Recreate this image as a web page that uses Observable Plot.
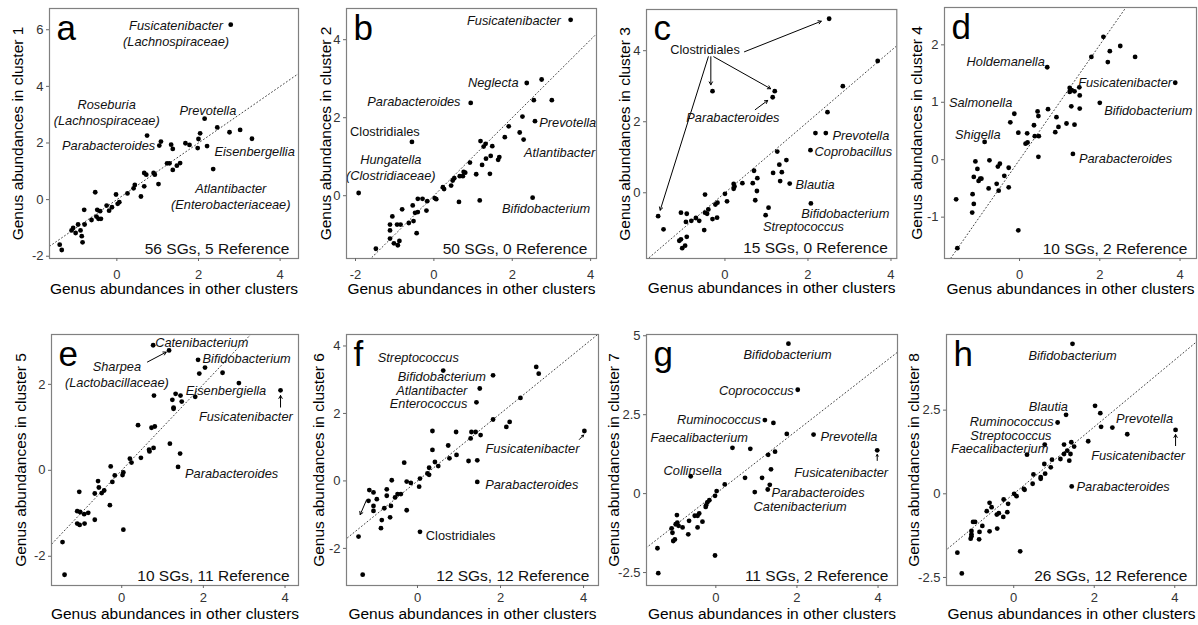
<!DOCTYPE html>
<html>
<head>
<meta charset="utf-8">
<script src="https://cdn.jsdelivr.net/npm/d3@7"></script>
<script src="https://cdn.jsdelivr.net/npm/@observablehq/plot@0.6"></script>
<style>
  html, body { margin: 0; padding: 0; background: #fff; }
  #chart { position: relative; width: 1198px; height: 625px; overflow: hidden; background: #fff; }
  #chart svg { position: absolute; }
</style>
</head>
<body>
<div id="chart"></div>
<script>
// ---------------- DATA ----------------
const panelLetters = ["a", "b", "c", "d", "e", "f", "g", "h"];
const sgCounts = [56, 50, 15, 10, 10, 12, 11, 26];
const refCounts = [5, 0, 0, 2, 11, 12, 2, 12];
const xTitle = "Genus abundances in other clusters";
const yTitlePrefix = "Genus abundances in cluster ";

// [abundance in other clusters, abundance in this cluster]
const dotsA = [[2.79,6.18],[2.15,2.86],[0.74,2.26],[1.04,1.91],[1.08,2.05],[1.33,1.94],[1.37,1.79],[1.68,1.99],[1.78,1.93],[2.04,2.34],[2.0,2.14],[1.98,1.82],[2.21,1.89],[2.46,2.55],[2.76,2.38],[3.02,2.46],[3.31,2.15],[2.36,1.08],[1.23,1.28],[1.29,1.28],[1.37,1.05],[1.47,1.2],[1.55,1.29],[0.9,0.94],[0.93,0.88],[0.67,0.94],[0.72,0.88],[1.02,0.55],[0.44,0.52],[0.41,0.4],[0.67,0.47],[0.26,0.22],[0.59,0.11],[-0.02,0.18],[-0.53,0.26],[0.02,-0.15],[0.06,-0.09],[-0.25,-0.21],[-0.12,-0.27],[-0.19,-0.39],[-0.48,-0.36],[-0.41,-0.41],[-0.5,-0.6],[-0.45,-0.68],[-0.39,-0.68],[-0.62,-0.72],[-0.8,-0.36],[-0.79,-0.88],[-0.95,-0.88],[-1.07,-1.0],[-0.89,-1.09],[-1.11,-1.09],[-1.01,-1.18],[-0.86,-1.29],[-0.84,-1.51],[-1.4,-1.59],[-1.35,-1.78]];
const dotsB = [[3.49,4.51],[2.75,2.98],[2.37,2.89],[0.94,2.38],[2.55,2.45],[3.01,2.45],[2.26,2.03],[2.58,1.91],[1.91,1.78],[2.19,1.62],[2.29,1.44],[1.81,1.5],[1.19,1.4],[1.32,1.33],[1.27,1.26],[1.49,1.27],[1.45,1.02],[1.33,0.95],[1.67,0.99],[1.64,0.92],[1.23,0.79],[0.92,0.85],[0.76,0.61],[0.8,0.59],[1.08,0.55],[1.43,0.56],[0.66,0.5],[0.74,0.5],[0.52,0.45],[0.48,0.39],[0.44,0.26],[0.23,0.22],[0.26,0.17],[0.06,-0.09],[0.02,-0.06],[-0.56,1.38],[-1.92,0.07],[2.52,-0.05],[0.64,-0.16],[1.17,-0.12],[-0.41,-0.08],[-0.29,-0.08],[-0.17,-0.14],[-0.54,-0.25],[-0.81,-0.35],[-0.19,-0.38],[-0.41,-0.42],[-0.48,-0.44],[-0.52,-0.65],[-0.64,-0.7],[-0.85,-0.74],[-0.94,-0.74],[-1.06,-0.53],[-1.12,-0.74],[-1.12,-0.89],[-1.12,-1.1],[-1.02,-1.22],[-0.88,-1.16],[-0.92,-1.27],[-0.44,-0.96],[-1.48,-1.36]];
const dotsC = [[2.51,4.9],[3.68,3.71],[2.84,3.0],[2.47,2.27],[-0.3,2.86],[1.2,2.86],[1.15,2.69],[2.18,1.68],[2.43,1.68],[2.06,1.2],[1.26,1.16],[1.48,0.92],[1.31,0.79],[1.37,0.58],[1.16,0.56],[1.33,0.33],[1.56,0.26],[0.78,0.41],[0.77,0.05],[0.7,0.62],[0.67,0.27],[2.07,-0.3],[1.05,-0.42],[0.98,-0.63],[0.73,-0.21],[-1.61,-0.66],[0.42,0.27],[0.21,0.25],[0.23,0.18],[0.21,0.11],[0.0,-0.03],[0.05,-0.24],[-0.18,-0.28],[-0.23,-0.33],[-0.48,-0.05],[-0.4,-0.47],[-0.43,-0.59],[-0.48,-0.56],[-0.19,-0.7],[-0.3,-0.74],[-0.7,-0.71],[-0.81,-0.79],[-0.62,-0.79],[-0.92,-0.59],[-1.06,-0.56],[-0.94,-0.82],[-0.5,-1.05],[-1.48,-1.03],[-0.92,-1.24],[-1.06,-1.31],[-1.1,-1.35],[-0.96,-1.49],[-1.03,-1.56]];
const dotsD = [[2.09,2.14],[2.51,1.98],[2.25,1.89],[1.79,1.79],[2.2,1.7],[2.88,1.79],[0.69,1.61],[3.88,1.34],[1.25,1.25],[1.3,1.21],[1.37,1.19],[1.25,1.18],[1.49,1.26],[1.5,1.12],[1.29,0.93],[1.5,0.89],[2.0,0.99],[0.71,0.88],[0.45,0.84],[0.47,0.76],[-0.13,0.8],[-0.23,0.65],[0.92,0.74],[0.97,0.57],[1.17,0.63],[1.37,0.61],[0.89,0.48],[0.36,0.6],[0.38,0.41],[0.48,0.41],[-0.03,0.47],[0.19,0.46],[0.15,0.28],[0.2,0.3],[-0.87,0.31],[0.47,0.05],[1.33,0.1],[-1.1,-0.03],[-1.05,-0.16],[-0.75,-0.01],[-0.49,-0.07],[-0.54,-0.12],[-0.27,-0.14],[-0.38,-0.28],[-0.27,-0.48],[-0.57,-0.42],[-0.52,-0.54],[-0.77,-0.5],[-0.95,-0.33],[-1.02,-0.37],[-0.98,-0.33],[-1.14,-0.3],[-1.17,-0.6],[-1.14,-0.77],[-1.18,-0.92],[-1.58,-0.69],[-0.03,-1.23],[-1.55,-1.54]];
const dotsE = [[0.77,2.91],[1.16,2.79],[1.87,2.57],[2.04,2.39],[1.9,2.25],[2.47,2.27],[2.87,2.03],[3.89,1.86],[0.79,1.74],[1.32,1.78],[1.44,1.74],[1.24,1.64],[1.47,1.6],[1.8,1.71],[1.27,1.46],[1.27,1.43],[0.4,1.05],[0.73,0.99],[0.81,1.02],[1.18,0.62],[1.43,0.39],[1.38,0.08],[0.78,0.52],[0.67,0.48],[0.68,0.44],[0.2,0.27],[0.24,0.18],[0.47,0.29],[-0.27,0.09],[0.04,-0.05],[0.02,-0.11],[-0.17,-0.12],[-0.23,-0.27],[-0.58,-0.25],[-0.56,-0.4],[-0.66,-0.54],[-0.49,-0.53],[-0.43,-0.47],[-0.29,-0.81],[-1.04,-0.5],[-1.09,-0.95],[-1.02,-0.97],[-0.92,-1.02],[-0.82,-0.99],[-1.09,-1.24],[-1.03,-1.27],[-0.91,-1.24],[-0.66,-1.15],[0.04,-1.38],[-1.45,-1.67],[-1.4,-2.43]];
const dotsF = [[0.62,3.27],[1.82,3.13],[1.5,2.74],[1.42,2.33],[2.86,3.38],[2.92,3.18],[2.48,2.46],[1.82,1.82],[2.22,1.75],[2.14,1.6],[4.02,1.48],[0.36,1.48],[0.93,1.45],[1.3,1.45],[1.4,1.45],[1.28,1.26],[1.52,1.36],[0.74,1.05],[0.36,0.92],[0.94,0.77],[0.77,0.67],[1.23,0.59],[1.44,0.61],[0.42,0.56],[0.5,0.44],[-0.32,0.54],[0.28,0.39],[0.24,0.22],[0.28,0.18],[0.06,0.07],[0.04,-0.17],[1.44,-0.03],[-0.26,-0.02],[-0.16,-0.06],[-0.62,0.02],[-0.74,-0.25],[-0.48,-0.39],[-0.4,-0.39],[-0.74,-0.44],[-0.54,-0.49],[-0.64,-0.74],[-0.26,-0.87],[-1.16,-0.27],[-1.06,-0.34],[-0.98,-0.54],[-1.18,-0.59],[-1.06,-0.74],[-1.06,-0.89],[-0.8,-0.81],[-0.86,-1.16],[-0.66,-1.08],[-0.88,-1.4],[0.06,-1.51],[-1.42,-1.65],[-1.32,-2.78]];
const dotsG = [[1.79,4.75],[2.02,3.29],[1.21,2.33],[1.42,2.24],[1.75,1.89],[2.41,1.87],[3.98,1.37],[0.41,1.45],[0.85,1.42],[1.29,1.23],[1.46,1.33],[-0.62,0.55],[1.36,0.77],[0.72,0.5],[1.14,0.5],[1.33,0.28],[1.28,0.13],[0.96,0.05],[0.22,0.29],[0.02,0.08],[-0.02,-0.07],[-0.16,-0.21],[-0.21,-0.28],[-0.24,-0.37],[-0.25,-0.42],[-0.33,-0.89],[-0.41,-0.63],[-0.52,-0.7],[-0.45,-0.7],[-0.66,-0.86],[-0.45,-1.07],[-0.68,-1.29],[-0.82,-1.07],[-0.92,-1.02],[-0.96,-0.68],[-0.95,-0.92],[-0.99,-0.97],[-1.09,-1.1],[-1.07,-1.24],[-1.01,-1.45],[-1.05,-1.5],[-0.02,-1.96],[-1.44,-1.73],[-1.42,-2.52]];
const dotsH = [[1.46,4.48],[2.02,2.63],[2.15,2.41],[1.3,2.36],[1.09,2.13],[2.17,2.0],[2.45,1.98],[2.82,1.78],[4.02,1.91],[1.85,1.57],[1.43,1.54],[1.5,1.41],[0.77,1.47],[1.25,1.47],[1.33,1.29],[1.41,1.19],[1.25,1.19],[0.33,1.17],[1.16,1.04],[1.38,0.99],[0.95,1.02],[0.76,0.89],[0.92,0.79],[0.78,0.6],[0.67,0.5],[0.67,0.45],[0.49,0.58],[0.47,0.3],[1.44,0.22],[0.25,0.15],[0.27,0.12],[0.01,0.0],[0.07,-0.07],[-0.14,-0.3],[-0.25,-0.17],[-0.16,-0.55],[-0.37,-0.58],[-0.42,-0.62],[-0.26,-0.69],[-0.6,-0.27],[-0.55,-0.4],[-0.67,-0.52],[-0.41,-1.04],[-0.6,-1.12],[-0.78,-0.96],[-0.96,-0.84],[-1.01,-0.84],[-0.85,-1.14],[-0.86,-1.36],[-1.05,-1.11],[-1.05,-1.21],[-1.05,-1.27],[-1.07,-1.34],[0.16,-1.72],[-1.4,-1.76],[-1.29,-2.38]];

// genus annotations (x, y in data units of each panel)
const labelsA = [
  {text: "Fusicatenibacter\n(Lachnospiraceae)", x: 1.45, y: 5.9, anchor: "middle"},
  {text: "Roseburia\n(Lachnospiraceae)", x: -0.25, y: 3.11, anchor: "middle"},
  {text: "Parabacteroides", x: 0.94, y: 1.94, anchor: "end"},
  {text: "Prevotella", x: 2.23, y: 3.16, anchor: "middle"},
  {text: "Eisenbergellia", x: 2.39, y: 1.71, anchor: "start"},
  {text: "Atlantibacter\n(Enterobacteriaceae)", x: 2.79, y: 0.14, anchor: "middle"}
];
const labelsB = [
  {text: "Fusicatenibacter", x: 3.24, y: 4.51, anchor: "end"},
  {text: "Neglecta", x: 2.16, y: 2.91, anchor: "end"},
  {text: "Parabacteroides", x: 0.68, y: 2.44, anchor: "end"},
  {text: "Prevotella", x: 2.69, y: 1.89, anchor: "start"},
  {text: "Atlantibacter", x: 2.3, y: 1.12, anchor: "start"},
  {text: "Clostridiales", x: -1.25, y: 1.66, anchor: "middle"},
  {text: "Hungatella\n(Clostridiaceae)", x: -1.1, y: 0.74, anchor: "middle"},
  {text: "Bifidobacterium", x: 1.74, y: -0.31, anchor: "start"}
];
const labelsC = [
  {text: "Clostridiales", x: -0.48, y: 4.06, anchor: "middle"},
  {text: "Parabacteroides", x: 0.19, y: 2.13, anchor: "middle"},
  {text: "Prevotella", x: 2.59, y: 1.63, anchor: "start"},
  {text: "Coprobacillus", x: 2.16, y: 1.18, anchor: "start"},
  {text: "Blautia", x: 1.7, y: 0.25, anchor: "start"},
  {text: "Bifidobacterium", x: 2.9, y: -0.56, anchor: "middle"},
  {text: "Streptococcus", x: 1.89, y: -0.94, anchor: "middle"}
];
const labelsD = [
  {text: "Holdemanella", x: 0.63, y: 1.72, anchor: "end"},
  {text: "Fusicatenibacter", x: 3.8, y: 1.35, anchor: "end"},
  {text: "Salmonella", x: -0.97, y: 1.0, anchor: "middle"},
  {text: "Bifidobacterium", x: 2.11, y: 0.87, anchor: "start"},
  {text: "Shigella", x: -1.04, y: 0.45, anchor: "middle"},
  {text: "Parabacteroides", x: 1.48, y: 0.03, anchor: "start"}
];
const labelsE = [
  {text: "Catenibacterium", x: 0.82, y: 3.0, anchor: "start"},
  {text: "Sharpea\n(Lactobacillaceae)", x: -0.12, y: 2.25, anchor: "middle"},
  {text: "Bifidobacterium", x: 1.98, y: 2.62, anchor: "start"},
  {text: "Eisenbergiella", x: 1.57, y: 1.88, anchor: "start"},
  {text: "Fusicatenibacter", x: 3.04, y: 1.26, anchor: "middle"},
  {text: "Parabacteroides", x: 1.55, y: -0.06, anchor: "start"}
];
const labelsF = [
  {text: "Streptococcus", x: 0.02, y: 3.67, anchor: "middle"},
  {text: "Bifidobacterium", x: 1.65, y: 3.13, anchor: "end"},
  {text: "Atlantibacter", x: 1.2, y: 2.71, anchor: "end"},
  {text: "Enterococcus", x: 1.2, y: 2.33, anchor: "end"},
  {text: "Fusicatenibacter", x: 2.77, y: 0.99, anchor: "middle"},
  {text: "Parabacteroides", x: 1.63, y: -0.1, anchor: "start"},
  {text: "Clostridiales", x: 0.2, y: -1.6, anchor: "start"}
];
const labelsG = [
  {text: "Bifidobacterium", x: 1.77, y: 4.44, anchor: "middle"},
  {text: "Coprococcus", x: 1.92, y: 3.29, anchor: "end"},
  {text: "Ruminococcus", x: 1.11, y: 2.36, anchor: "end"},
  {text: "Faecalibacterium", x: -0.41, y: 1.79, anchor: "middle"},
  {text: "Prevotella", x: 2.58, y: 1.84, anchor: "start"},
  {text: "Collinsella", x: -0.57, y: 0.77, anchor: "middle"},
  {text: "Fusicatenibacter", x: 3.09, y: 0.69, anchor: "middle"},
  {text: "Parabacteroides", x: 1.37, y: 0.06, anchor: "start"},
  {text: "Catenibacterium", x: 2.08, y: -0.37, anchor: "middle"}
];
const labelsH = [
  {text: "Bifidobacterium", x: 1.46, y: 4.15, anchor: "middle"},
  {text: "Blautia", x: 0.86, y: 2.63, anchor: "middle"},
  {text: "Ruminococcus", x: 0.99, y: 2.18, anchor: "end"},
  {text: "Streptococcus", x: -0.07, y: 1.77, anchor: "middle"},
  {text: "Faecalibacterium", x: -0.35, y: 1.36, anchor: "middle"},
  {text: "Prevotella", x: 3.25, y: 2.26, anchor: "middle"},
  {text: "Fusicatenibacter", x: 3.09, y: 1.17, anchor: "middle"},
  {text: "Parabacteroides", x: 1.56, y: 0.23, anchor: "start"}
];
const uprightLabels = ["Clostridiales"];

// annotation arrows [x1, y1, x2, y2] in data units
const arrowsA = [];
const arrowsB = [];
const arrowsC = [[-0.4,3.83,-1.56,-0.49],[-0.34,3.83,-0.34,3.04],[-0.27,3.83,1.1,2.93],[0.47,3.97,2.32,4.83],[0.73,2.34,1.03,2.6]];
const arrowsD = [];
const arrowsE = [[0.63,2.52,1.09,2.75],[3.89,1.47,3.89,1.74]];
const arrowsF = [[3.9,1.23,4.0,1.36],[-1.23,-0.57,-1.38,-1.0]];
const arrowsG = [[3.98,1.05,3.98,1.24]];
const arrowsH = [[4.02,1.44,4.02,1.77]];

// tick values
const xTickSets = [[0,2,4],[-2,0,2,4],[0,2,4],[0,2,4],[0,2,4],[0,2,4],[0,2,4],[0,2,4]];
const yTickSets = [[-2,0,2,4,6],[0,2,4],[0,2,4],[-1,0,1,2],[-2,0,2],[-2,0,2,4],[-2.5,0,2.5,5],[-2.5,0,2.5]];

const allDots = [dotsA, dotsB, dotsC, dotsD, dotsE, dotsF, dotsG, dotsH];
const allLabels = [labelsA, labelsB, labelsC, labelsD, labelsE, labelsF, labelsG, labelsH];
const allArrows = [arrowsA, arrowsB, arrowsC, arrowsD, arrowsE, arrowsF, arrowsG, arrowsH];

// ---------------- LAYOUT ----------------
// frame: [left, right, top, bottom] in page pixels
const layout = [
  {frame: [49, 298, 8, 258],     xDomain: [-1.65, 4.45], yDomain: [-2.08, 6.75], yTitleOffset: 31, row: 0},
  {frame: [346, 596, 8, 258],    xDomain: [-2.23, 4.15], yDomain: [-1.61, 4.8],  yTitleOffset: 20, row: 0},
  {frame: [645.7, 896, 9, 258],  xDomain: [-1.89, 4.14], yDomain: [-1.85, 5.16], yTitleOffset: 21, row: 0},
  {frame: [944, 1196, 7, 258],   xDomain: [-1.87, 4.41], yDomain: [-1.72, 2.65], yTitleOffset: 27, row: 0},
  {frame: [50.7, 297.7, 334, 585], xDomain: [-1.72, 4.33], yDomain: [-2.68, 3.16], yTitleOffset: 30, row: 1},
  {frame: [345.7, 597.7, 334, 585], xDomain: [-1.71, 4.36], yDomain: [-3.10, 4.34], yTitleOffset: 27, row: 1},
  {frame: [645.7, 896.7, 334, 585], xDomain: [-1.71, 4.48], yDomain: [-2.91, 5.04], yTitleOffset: 32, row: 1},
  {frame: [945.7, 1195.7, 334, 585], xDomain: [-1.67, 4.54], yDomain: [-2.74, 4.76], yTitleOffset: 32, row: 1}
];

const FONT = '"Liberation Sans", Arial, Helvetica, sans-serif';
const chart = document.getElementById("chart");

function drawPanel(i) {
  const L = layout[i];
  const [fl, fr, ft, fb] = L.frame;
  const ML = 46, MR = 4, MT = 4, MB = 46;
  const lo = Math.min(L.xDomain[0], L.yDomain[0]);
  const hi = Math.max(L.xDomain[1], L.yDomain[1]);
  const diag = [lo, hi];
  const topRow = L.row === 0;
  const labels = allLabels[i];
  const isUp = d => uprightLabels.includes(d.text);
  const labelMarks = [];
  for (const anchor of ["start", "middle", "end"]) {
    for (const up of [false, true]) {
      labelMarks.push(Plot.text(labels, {
        filter: d => d.anchor === anchor && isUp(d) === up,
        x: "x", y: "y", text: "text",
        textAnchor: anchor, lineAnchor: "middle", lineHeight: 1.27,
        fontSize: 12.8, fontStyle: up ? "normal" : "italic",
        fill: "#111", clip: true
      }));
    }
  }
  const svg = Plot.plot({
    width: fr - fl + ML + MR,
    height: fb - ft + MT + MB,
    marginLeft: ML, marginRight: MR, marginTop: MT, marginBottom: MB,
    x: {domain: L.xDomain},
    y: {domain: L.yDomain},
    style: {fontFamily: FONT, fontSize: "13px", background: "transparent", overflow: "visible", color: "#000"},
    marks: [
      Plot.line(diag, {x: d => d, y: d => d, stroke: "#444", strokeWidth: 1, strokeDasharray: "1,2.6", clip: true}),
      Plot.dot(allDots[i], {x: d => d[0], y: d => d[1], r: 2.4, fill: "#000", stroke: "none"}),
      Plot.arrow(allArrows[i], {x1: d => d[0], y1: d => d[1], x2: d => d[2], y2: d => d[3],
        stroke: "#000", strokeWidth: 1, headLength: 5, insetStart: 0, insetEnd: 0}),
      ...labelMarks,
      Plot.frame({stroke: "#808080", strokeWidth: 1.2}),
      Plot.axisX({ticks: xTickSets[i], tickSize: 3, tickPadding: topRow ? 8 : 4, fontSize: 13,
        stroke: "#666", fill: "#333", label: null, tickFormat: d => String(d)}),
      Plot.axisY({ticks: yTickSets[i], tickSize: 3, tickPadding: 3, fontSize: 13,
        stroke: "#666", fill: "#333", label: null, tickFormat: d => String(d)}),
      Plot.text([panelLetters[i]], {text: d => d, frameAnchor: "top-left", textAnchor: "start",
        lineAnchor: "bottom", dx: 7, dy: 31, fontSize: 35, fill: "#000"}),
      Plot.text([`${sgCounts[i]} SGs, ${refCounts[i]} Reference`], {text: d => d, frameAnchor: "bottom-right",
        textAnchor: "end", lineAnchor: "bottom", dx: -9, dy: -5, fontSize: 15.5, fill: "#111"}),
      Plot.text([xTitle], {text: d => d, frameAnchor: "bottom", textAnchor: "middle", lineAnchor: "bottom",
        dy: topRow ? 35 : 33, fontSize: 15.5, fill: "#000"}),
      Plot.text([yTitlePrefix + (i + 1)], {text: d => d, frameAnchor: "left", rotate: -90,
        textAnchor: "middle", lineAnchor: "middle", dx: -L.yTitleOffset, fontSize: 15.5, fill: "#000"})
    ]
  });
  svg.style.left = (fl - ML) + "px";
  svg.style.top = (ft - MT) + "px";
  chart.appendChild(svg);
}

for (let i = 0; i < 8; ++i) drawPanel(i);
</script>
</body>
</html>
